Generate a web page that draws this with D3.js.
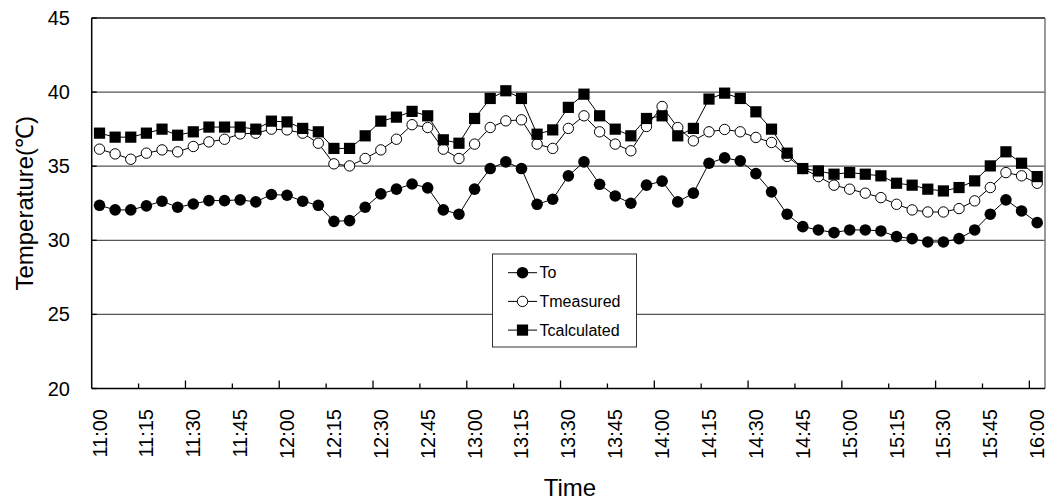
<!DOCTYPE html>
<html>
<head>
<meta charset="utf-8">
<script src="https://cdn.jsdelivr.net/npm/d3@7"></script>
<style>
  body { margin: 0; background: #fff; }
  svg { display: block; font-family: "Liberation Sans", Arial, sans-serif; }
</style>
</head>
<body>
<div id="root"></div>
<script>
'use strict';

var times = ['11:00','11:05','11:10','11:15','11:20','11:25','11:30','11:35','11:40','11:45',
  '11:50','11:55','12:00','12:05','12:10','12:15','12:20','12:25','12:30','12:35',
  '12:40','12:45','12:50','12:55','13:00','13:05','13:10','13:15','13:20','13:25',
  '13:30','13:35','13:40','13:45','13:50','13:55','14:00','14:05','14:10','14:15',
  '14:20','14:25','14:30','14:35','14:40','14:45','14:50','14:55','15:00','15:05',
  '15:10','15:15','15:20','15:25','15:30','15:35','15:40','15:45','15:50','15:55','16:00'];

var tickLabels = ['11:00','11:15','11:30','11:45','12:00','12:15','12:30','12:45','13:00','13:15',
  '13:30','13:45','14:00','14:15','14:30','14:45','15:00','15:15','15:30','15:45','16:00'];

var yTicks = [20, 25, 30, 35, 40, 45];

var tO = [32.36, 32.05, 32.05, 32.32, 32.64, 32.23, 32.45, 32.68, 32.68, 32.73,
  32.59, 33.09, 33.04, 32.64, 32.36, 31.28, 31.33, 32.23, 33.13, 33.45,
  33.80, 33.54, 32.05, 31.76, 33.45, 34.84, 35.29, 34.84, 32.43, 32.77,
  34.35, 35.29, 33.78, 32.99, 32.50, 33.72, 33.99, 32.59, 33.18, 35.20,
  35.56, 35.36, 34.50, 33.27, 31.76, 30.92, 30.70, 30.52, 30.70, 30.70,
  30.63, 30.25, 30.11, 29.89, 29.89, 30.11, 30.70, 31.76, 32.73, 31.98, 31.19];

var tMeasured = [36.15, 35.83, 35.47, 35.88, 36.10, 35.97, 36.33, 36.64, 36.82, 37.18,
  37.23, 37.50, 37.45, 37.23, 36.55, 35.16, 35.02, 35.52, 36.10, 36.82,
  37.80, 37.61, 36.15, 35.52, 36.49, 37.61, 38.06, 38.13, 36.49, 36.20,
  37.55, 38.40, 37.32, 36.49, 36.04, 37.68, 39.03, 37.61, 36.71, 37.32,
  37.48, 37.32, 36.94, 36.60, 35.66, 34.84, 34.30, 33.72, 33.45, 33.18,
  32.88, 32.43, 32.05, 31.91, 31.91, 32.14, 32.66, 33.56, 34.57, 34.35, 33.85];

var tCalculated = [37.23, 36.96, 36.96, 37.23, 37.50, 37.09, 37.32, 37.64, 37.64, 37.64,
  37.50, 38.04, 37.99, 37.55, 37.32, 36.20, 36.20, 37.05, 38.04, 38.31,
  38.70, 38.40, 36.78, 36.55, 38.22, 39.57, 40.09, 39.57, 37.16, 37.45,
  38.97, 39.86, 38.40, 37.50, 37.05, 38.22, 38.40, 37.05, 37.55, 39.53,
  39.93, 39.57, 38.67, 37.50, 35.88, 34.84, 34.68, 34.46, 34.57, 34.46,
  34.35, 33.85, 33.72, 33.45, 33.33, 33.56, 34.01, 35.02, 35.97, 35.20, 34.30];

var seriesNames = ['To', 'Tmeasured', 'Tcalculated'];

var width = 1047;
var height = 502;
var plotLeft = 91.7, plotRight = 1045, plotTop = 18, plotBottom = 388.5;

var svg = d3.select('#root')
  .append('svg')
  .attr('width', width)
  .attr('height', height);

var xScale = d3.scaleBand()
  .domain(times)
  .range([plotLeft, plotRight])
  .paddingInner(0)
  .paddingOuter(0);

var yScale = d3.scaleLinear()
  .domain([20, 45])
  .range([plotBottom, plotTop]);

function cx(i) { return xScale(times[i]) + xScale.bandwidth() / 2; }

// gridlines
svg.append('g')
  .selectAll('line')
  .data(yTicks.filter(v => v > 20 && v < 45))
  .enter()
  .append('line')
  .attr('x1', plotLeft).attr('x2', plotRight)
  .attr('y1', d => yScale(d)).attr('y2', d => yScale(d))
  .attr('stroke', '#555')
  .attr('stroke-width', 1.2);

// plot border
svg.append('line')
  .attr('x1', plotLeft).attr('x2', plotRight)
  .attr('y1', yScale(45)).attr('y2', yScale(45))
  .attr('stroke', '#111').attr('stroke-width', 1.3);
svg.append('line')
  .attr('x1', plotRight).attr('x2', plotRight)
  .attr('y1', yScale(45)).attr('y2', yScale(20))
  .attr('stroke', '#777').attr('stroke-width', 1.5);

// y axis
svg.append('line')
  .attr('x1', plotLeft).attr('x2', plotLeft)
  .attr('y1', yScale(45)).attr('y2', yScale(20))
  .attr('stroke', '#000').attr('stroke-width', 1.5);

svg.append('g')
  .selectAll('line')
  .data(yTicks)
  .enter()
  .append('line')
  .attr('x1', plotLeft).attr('x2', plotLeft + 5)
  .attr('y1', d => yScale(d)).attr('y2', d => yScale(d))
  .attr('stroke', '#000').attr('stroke-width', 1.3);

svg.append('g')
  .selectAll('text')
  .data(yTicks)
  .enter()
  .append('text')
  .attr('x', 70)
  .attr('y', d => yScale(d))
  .attr('dy', '0.35em')
  .attr('text-anchor', 'end')
  .attr('font-size', 20)
  .text(d => d);

// x axis
svg.append('line')
  .attr('x1', plotLeft).attr('x2', plotRight)
  .attr('y1', plotBottom).attr('y2', plotBottom)
  .attr('stroke', '#000').attr('stroke-width', 1.5);

svg.append('g')
  .selectAll('line')
  .data(times.filter((d, i) => i % 3 === 0 && i > 0))
  .enter()
  .append('line')
  .attr('x1', d => xScale(d)).attr('x2', d => xScale(d))
  .attr('y1', plotBottom)
  .attr('y2', d => times.indexOf(d) % 6 === 0 ? plotBottom - 8 : plotBottom - 5)
  .attr('stroke', '#000').attr('stroke-width', 1.3);

svg.append('g')
  .selectAll('text')
  .data(tickLabels)
  .enter()
  .append('text')
  .attr('transform', d => `translate(${xScale(d) + xScale.bandwidth() / 2 + 7},409) rotate(-90)`)
  .attr('text-anchor', 'end')
  .attr('font-size', 20)
  .text(d => d);

// axis titles
svg.append('text')
  .attr('x', 570)
  .attr('y', 496)
  .attr('text-anchor', 'middle')
  .attr('font-size', 24)
  .text('Time');

svg.append('text')
  .attr('transform', 'translate(33,' + ((plotTop + plotBottom) / 2) + ') rotate(-90)')
  .attr('text-anchor', 'middle')
  .attr('font-size', 24)
  .text('Temperature(℃)');

// series
var line = d3.line()
  .x((d, i) => cx(i))
  .y(d => yScale(d));

function drawMarkers(g, values, kind, x0, y0) {
  if (kind === 'square') {
    g.selectAll('rect.m')
      .data(values)
      .enter()
      .append('rect')
      .attr('class', 'm')
      .attr('x', (d, i) => (x0 !== undefined ? x0 : cx(i)) - 5.6)
      .attr('y', d => (y0 !== undefined ? y0 : yScale(d)) - 5.6)
      .attr('width', 11.2).attr('height', 11.2)
      .attr('fill', '#000');
  } else {
    g.selectAll('circle.m')
      .data(values)
      .enter()
      .append('circle')
      .attr('class', 'm')
      .attr('cx', (d, i) => x0 !== undefined ? x0 : cx(i))
      .attr('cy', d => y0 !== undefined ? y0 : yScale(d))
      .attr('r', kind === 'filled' ? 5.8 : 5.2)
      .attr('fill', kind === 'filled' ? '#000' : '#fff')
      .attr('stroke', '#000')
      .attr('stroke-width', kind === 'filled' ? 0 : 1);
  }
}

var series = [
  { name: seriesNames[0], values: tO, kind: 'filled' },
  { name: seriesNames[1], values: tMeasured, kind: 'open' },
  { name: seriesNames[2], values: tCalculated, kind: 'square' }
];

series.forEach(function(s) {
  var g = svg.append('g');
  g.append('path')
    .attr('d', line(s.values))
    .attr('fill', 'none')
    .attr('stroke', '#000')
    .attr('stroke-width', 1);
  drawMarkers(g, s.values, s.kind);
});

// legend
var legend = svg.append('g');
legend.append('rect')
  .attr('x', 492.5).attr('y', 254)
  .attr('width', 144).attr('height', 93)
  .attr('fill', '#fff')
  .attr('stroke', '#333')
  .attr('stroke-width', 1);

series.forEach(function(s, i) {
  var ly = 272.7 + i * 28.7;
  var g = legend.append('g');
  g.append('line')
    .attr('x1', 508).attr('x2', 537)
    .attr('y1', ly).attr('y2', ly)
    .attr('stroke', '#000').attr('stroke-width', 1);
  drawMarkers(g, [0], s.kind, 522.5, ly);
  g.append('text')
    .attr('x', 539.5)
    .attr('y', ly)
    .attr('dy', '0.36em')
    .attr('font-size', 16)
    .text(s.name);
});
</script>
</body>
</html>
